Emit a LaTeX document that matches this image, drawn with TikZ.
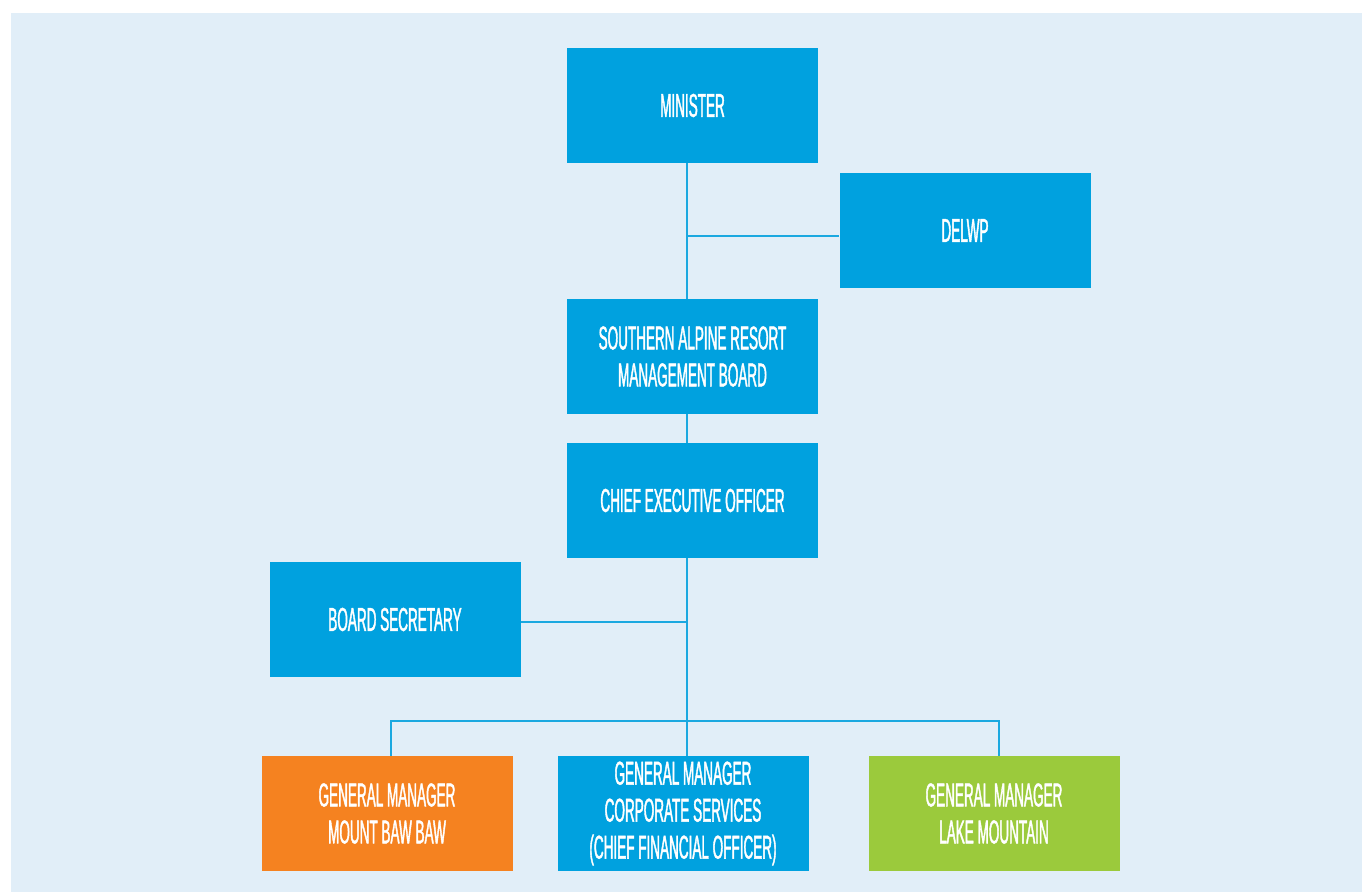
\documentclass[tikz,border=0pt]{standalone}
\usepackage{fontspec}
\newfontfamily\orgfont[FakeStretch=0.41,FakeBold=1.2]{Liberation Sans}
\usetikzlibrary{positioning}

\definecolor{orgblue}{HTML}{00A1DF}
\definecolor{orgline}{HTML}{1AA8E0}
\definecolor{orgorange}{HTML}{F58220}
\definecolor{orggreen}{HTML}{9BCA3C}
\definecolor{orgback}{HTML}{E1EEF8}

\begin{document}
\begin{tikzpicture}[on grid,%
  every node/.style={font=\orgfont\fontsize{16.5}{18.5}\selectfont,text=white},%
  post/.style={rectangle,fill=orgblue,minimum width=125.5pt,%
  minimum height=57.5pt,align=center,inner sep=0pt},%
  link/.style={draw=orgline,line width=1pt}]
  \useasboundingbox (0,0) rectangle (681pt,-446pt);
  \fill[orgback] (5.5pt,-6.5pt) rectangle (681pt,-446pt);

  \node[post]                 (minister)  at (346.25pt,-52.75pt)              {MINISTER};
  \node[post]                 (delwp)     [below right=62.5pt and 136.25pt of minister] {DELWP};
  \node[post]                 (board)     [below=125.5pt of minister]         {SOUTHERN ALPINE RESORT\\MANAGEMENT BOARD};
  \node[post]                 (ceo)       [below=72pt of board]               {CHIEF EXECUTIVE OFFICER};
  \node[post]                 (secretary) [below left=59.5pt and 148.75pt of ceo] {BOARD SECRETARY};
  \node[post]                 (gmcorp)    [below left=156.5pt and 4.75pt of ceo] {GENERAL MANAGER\\CORPORATE SERVICES\\(CHIEF FINANCIAL OFFICER)};
  \node[post,fill=orgorange]  (gmbaw)     [left=148pt of gmcorp]              {GENERAL MANAGER\\MOUNT BAW BAW};
  \node[post,fill=orggreen]   (gmlake)    [right=155.5pt of gmcorp]           {GENERAL MANAGER\\LAKE MOUNTAIN};

  % spine and branch points
  \coordinate (spine) at (343.5pt,0);
  \coordinate (bar)   at (0,-360.5pt);

  \path[link] (minister.south -| spine) -- (board.north -| spine)
              (board.south -| spine)    -- (ceo.north -| spine)
              (ceo.south -| spine)      -- (bar -| spine)
              (spine |- delwp.west) ++(0,-3pt) coordinate (dj) -- (dj -| delwp.west)
              (secretary.east) ++(0,-1.5pt) coordinate (sj) -- (sj -| spine)
              (bar -| gmbaw.north) ++(1.75pt,0) coordinate (bl)
              (bar -| gmlake.north) ++(2.5pt,0) coordinate (br)
              (bl |- gmbaw.north) -- (bl) -- (br) -- (br |- gmlake.north)
              (bar -| spine) -- (gmcorp.north -| spine);
\end{tikzpicture}
\end{document}
